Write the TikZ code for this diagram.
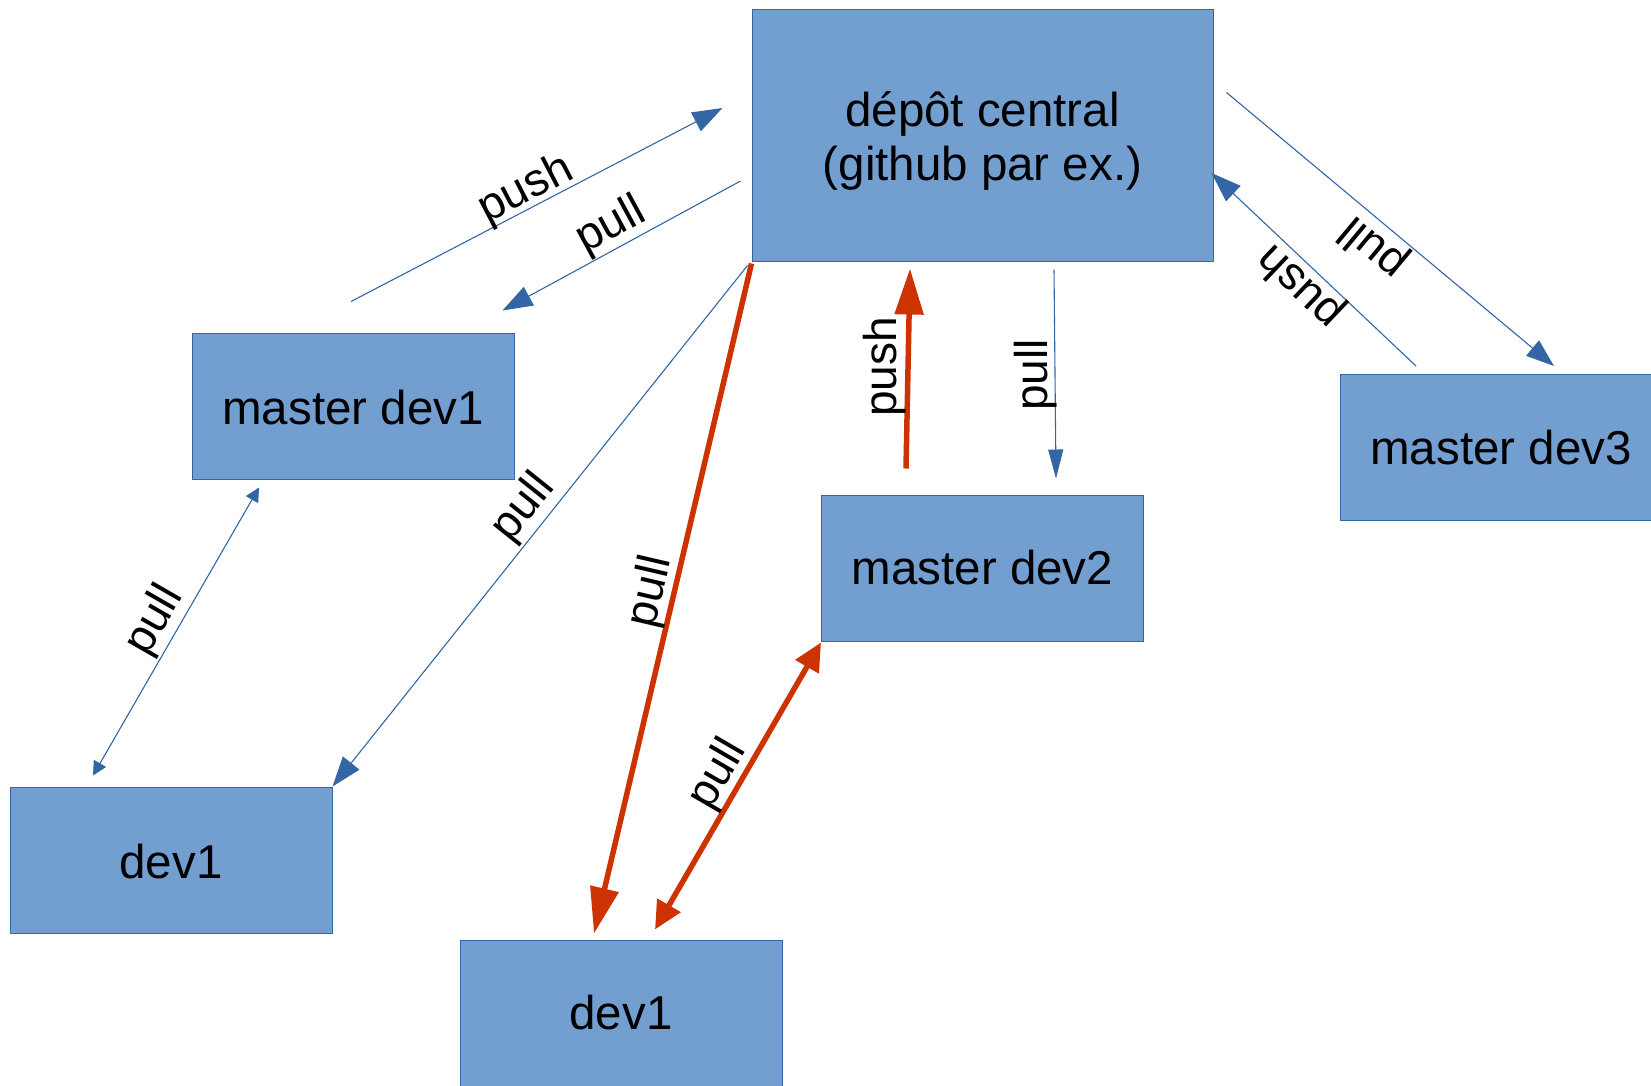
\documentclass[tikz,border=0pt]{standalone}
\usepackage{fontspec}
\setmainfont{Liberation Sans}
\usetikzlibrary{arrows.meta,calc}
\definecolor{boxfill}{HTML}{729FCF}
\definecolor{boxline}{HTML}{3465A4}
\definecolor{redarrow}{RGB}{204,51,0}
\newcommand{\lowerby}[2]{\raisebox{0pt}[\dimexpr\height+#1\relax][\depth]{#2}}
\tikzset{
  box/.style={draw=boxline, line width=1pt, fill=boxfill, minimum width=322pt,
    minimum height=146pt, inner sep=0pt, align=center,
    font=\fontsize{47.5}{54}\selectfont},
  lbl/.style={inner sep=0pt, font=\fontsize{46}{50}\selectfont},
  bluearrow/.style={draw=boxline, line width=1.1pt, -{Triangle[length=30pt,width=21pt]}},
  bluedouble/.style={draw=boxline, line width=1.1pt,
    {Triangle[length=14pt,width=14pt]}-{Triangle[length=14pt,width=14pt]}},
  redarrowstyle/.style={draw=redarrow, line width=5.5pt, -{Triangle[length=46pt,width=28pt]}},
  reddouble/.style={draw=redarrow, line width=5.5pt,
    {Triangle[length=28pt,width=26pt]}-{Triangle[length=28pt,width=26pt]}},
}
\begin{document}
\begin{tikzpicture}[x=1pt,y=-1pt]
\useasboundingbox (0,0) rectangle (1651,1085);
% boxes
\node[box, minimum width=461pt, minimum height=252pt] (central) at (982.5,135)
  {\lowerby{15pt}{\begin{tabular}{@{}c@{}}dépôt central\\(github par ex.)\end{tabular}}};
\node[box] (md1) at (353,406) {\lowerby{4pt}{master dev1}};
\node[box] (dev1l) at (171,860) {\lowerby{4pt}{dev1}};
\node[box] (dev1b) at (621,1013) {dev1};
\node[box] (md2) at (982.5,568) {master dev2};
\node[box] (md3) at (1501,447.5) {master dev3};
% connectors
\draw[bluearrow] ($(md1.north)+(-2,-31)$) -- ($(central.west)+(-29,-27)$);
\draw[bluearrow] ($(central.west)+(-11,46)$) -- ($(md1.north east)+(-12,-22)$);
\draw[bluearrow] ($(central.south west)+(-4,4)$) -- (dev1l.north east);
\draw[bluedouble] ($(md1.south)+(-94,8)$) -- ($(dev1l.north)+(-78,-11)$);
\draw[redarrowstyle] ($(central.south west)+(0,2)$) -- ($(dev1b.north)+(-27,-6)$);
\draw[reddouble] ($(md2.south west)+(0,1)$) -- ($(dev1b.north)+(34,-10)$);
\draw[redarrowstyle] ($(md2.north)+(-76.5,-26)$) -- ($(central.south)+(-72.5,7)$);
\draw[bluearrow, -{Triangle[length=29pt,width=15pt]}] ($(central.south)+(71.5,8)$) -- ($(md2.north)+(73.5,-16)$);
\draw[bluearrow, -{Triangle[length=28pt,width=20pt]}] ($(central.north east)+(13,84)$) -- ($(md3.north)+(53,-8)$);
\draw[bluearrow] ($(md3.north)+(-85,-8)$) -- ($(central.east)+(-2,38)$);
% labels
\node[lbl, rotate=27.5] (l1) at (526,190) {push};
\node[lbl, rotate=28.5] (l2) at (611,226) {pull};
\node[lbl, rotate=51.4] (l3) at (524,508) {pull};
\node[lbl, rotate=60.1] (l4) at (155,621) {pull};
\node[lbl, rotate=76.9] (l5) at (651,592) {pull};
\node[lbl, rotate=59.8] (l6) at (718,775) {pull};
\node[lbl, rotate=90] (l7) at (885,367) {push};
\node[lbl, rotate=90] (l8) at (1036,375) {pull};
\node[lbl, rotate=140.1] (l9) at (1374,247) {pull};
\node[lbl, rotate=136.4] (l10) at (1301,286) {push};
\end{tikzpicture}
\end{document}
